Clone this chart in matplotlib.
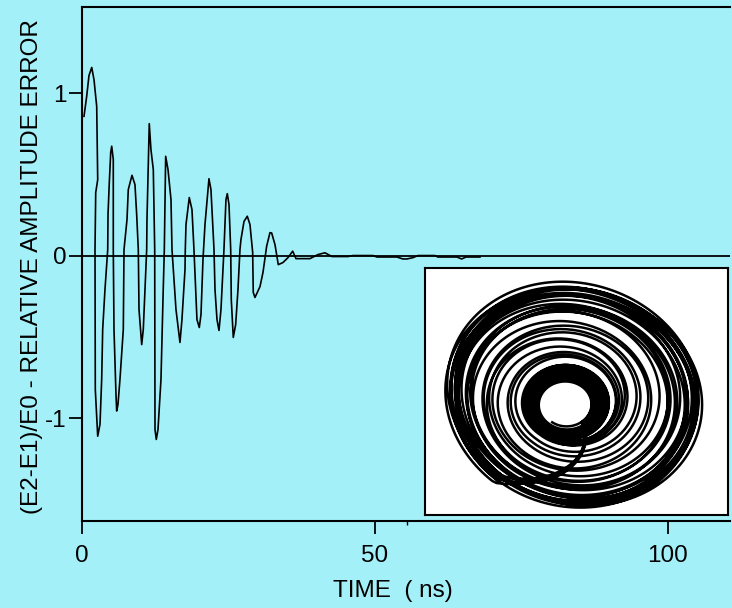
import numpy as np
import matplotlib
matplotlib.use("Agg")
import matplotlib.pyplot as plt

plt.rcParams["font.family"] = ["Liberation Sans", "DejaVu Sans"]
plt.rcParams["axes.unicode_minus"] = False

# Relative amplitude error vs time (ns)
time_ns = [0.34, 0.80, 1.19, 1.66, 2.05, 2.51, 2.68, 2.34, 2.22, 2.27, 2.68, 3.07, 3.36, 3.53,
           3.92, 4.39, 4.44, 4.66, 4.90, 5.07, 5.34, 5.34, 5.46, 5.80, 5.92, 6.14, 6.48, 7.05,
           7.17, 7.68, 7.90, 8.53, 9.04, 9.33, 9.61, 9.73, 10.19, 10.46, 10.75, 11.04, 11.09,
           11.48, 11.77, 12.17, 12.41, 12.46, 12.68, 12.97, 13.48, 13.82, 14.05, 14.28, 14.68,
           15.19, 15.36, 16.04, 16.72, 17.06, 17.58, 17.63, 17.75, 18.31, 18.77, 19.11, 19.62,
           20.02, 20.31, 20.65, 20.99, 21.67, 22.01, 22.53, 22.70, 23.04, 23.38, 23.72, 24.23,
           24.57, 24.80, 25.09, 25.38, 25.48, 25.82, 26.23, 26.62, 26.96, 27.13, 27.65, 28.21,
           28.67, 29.13, 29.23, 29.52, 30.38, 30.89, 31.52, 32.08, 32.37, 32.94, 33.50, 34.30,
           35.15, 35.96, 36.52, 38.91, 40.27, 41.47, 42.66, 45.39, 46.25, 49.66, 50.34, 53.75,
           54.78, 55.46, 56.48, 57.34, 60.24, 60.75, 63.99, 64.80, 65.53, 67.92]
rel_error = [0.857, 0.980, 1.108, 1.158, 1.082, 0.918, 0.467, 0.387, 0.037, -0.824, -1.112,
             -1.039, -0.762, -0.455, -0.210, 0.037, 0.253, 0.449, 0.634, 0.673, 0.591, 0.037,
             -0.455, -0.855, -0.957, -0.917, -0.762, -0.455, 0.037, 0.221, 0.406, 0.494, 0.437,
             0.253, 0.037, -0.332, -0.548, -0.455, -0.210, 0.037, 0.221, 0.812, 0.652, 0.529,
             0.037, -1.071, -1.132, -1.071, -0.762, -0.271, 0.037, 0.611, 0.529, 0.344, 0.037,
             -0.332, -0.535, -0.394, -0.086, 0.037, 0.191, 0.357, 0.283, 0.037, -0.394, -0.443,
             -0.363, -0.024, 0.191, 0.473, 0.406, 0.037, -0.210, -0.394, -0.461, -0.332, 0.037,
             0.344, 0.381, 0.314, 0.037, -0.271, -0.504, -0.424, -0.210, 0.037, 0.098, 0.210,
             0.242, 0.191, 0.019, -0.227, -0.258, -0.191, -0.104, 0.058, 0.141, 0.139, 0.067,
             -0.056, -0.043, -0.013, 0.027, -0.019, -0.019, 0.006, 0.017, -0.006, -0.006, 0.0,
             0.0, -0.009, -0.009, -0.021, -0.021, -0.013, 0.0, 0.0, -0.009, -0.009, -0.021,
             -0.009, -0.009]

x_ticks = [0, 50, 100]
x_tick_labels = ["0", "50", "100"]
y_ticks = [-1, 0, 1]
y_tick_labels = ["-1", "0", "1"]

# Phase portrait in the inset: loop radii (px) for each pass of the orbit,
# and the centre shift of each pass
orbit_passes = [
    [24, 28, 33, 38, 43, 60, 92, 110, 120, 126],
    [27, 31, 36, 41, 45, 74, 100, 114, 122, 127],
    [25, 30, 35, 40, 44, 55, 88, 106, 117, 124],
    [29, 34, 39, 44, 82, 104, 116, 123, 127],
    [26, 31, 37, 42, 66, 96, 112, 121, 125],
    [28, 33, 38, 43, 90, 108, 118, 124],
]
pass_shift_x = [0, -4, 3, -2, 4, -1]
pass_shift_y = [0, 3, -2, -4, 2, 4]

bg = "#a4f0f8"
fig = plt.figure(figsize=(7.32, 6.08), dpi=100, facecolor=bg)
ax = fig.add_axes([82 / 732, 1 - 521 / 608, 648 / 732, 514 / 608])
ax.set_facecolor(bg)

ax.axhline(0, color="black", lw=1.3, zorder=2)
ax.plot(time_ns, rel_error, color="black", lw=1.2, zorder=3)

ax.set_xlim(0, 110.6)
ax.set_ylim(-1.634, 1.53)
ax.spines["right"].set_visible(False)
for s in ("left", "top", "bottom"):
    ax.spines[s].set_linewidth(1.5)

ax.set_xticks(x_ticks)
ax.set_xticklabels(x_tick_labels)
ax.set_yticks(y_ticks)
ax.set_yticklabels(y_tick_labels)
ax.set_xticks([55.5], minor=True)
ax.tick_params(axis="both", which="major", direction="out", length=9.5, width=1.3,
               labelsize=17.5, color="black")
ax.tick_params(axis="x", which="major", pad=7.5)
ax.tick_params(axis="y", which="major", pad=1.5)
ax.tick_params(axis="x", which="minor", direction="out", length=3, width=1.0)

ax.set_xlabel("TIME  ( ns)", fontsize=17.5)
ax.xaxis.set_label_coords(0.48, -0.115)
ax.set_ylabel("(E2-E1)/E0 - RELATIVE AMPLITUDE ERROR", fontsize=17.5)
ax.yaxis.set_label_coords(-0.06, 0.495)

# Inset phase portrait
ins = fig.add_axes([425 / 732, 1 - 515 / 608, 303 / 732, 247 / 608])
ins.set_facecolor("white")
ins.set_xlim(0, 303)
ins.set_ylim(247, 0)
ins.set_xticks([])
ins.set_yticks([])
for s in ins.spines.values():
    s.set_linewidth(1.5)

pos, rad, shx, shy = [], [], [], []
p = 0.0
for k, radii in enumerate(orbit_passes):
    pos.append(p if k == 0 else p + 0.2)
    rad.append(radii[0])
    shx.append(pass_shift_x[k]); shy.append(pass_shift_y[k])
    for r in radii[1:]:
        p += 1.0
        pos.append(p); rad.append(r)
        shx.append(pass_shift_x[k]); shy.append(pass_shift_y[k])

s = np.linspace(0, pos[-1], 8000)
r = np.interp(s, pos, rad)
dx = np.interp(s, pos, shx)
dy = np.interp(s, pos, shy)
theta = np.deg2rad(125) - 2 * np.pi * s
frac = np.clip((r - 24) / 103.0, 0, 1)
shape = 1 + frac * (0.04 * np.sin(2 * theta) + 0.07 * np.cos(theta - np.deg2rad(50)))
cx = 141 + 4 * frac + dx * frac
cy = 137 - 15 * frac + dy * frac
xs = cx + r * shape * np.cos(theta)
ys = cy + 0.88 * r * shape * np.sin(theta)
ins.plot(xs, ys, color="black", lw=1.8, solid_joinstyle="round")

fig.savefig("out.png", dpi=100, facecolor=bg)
